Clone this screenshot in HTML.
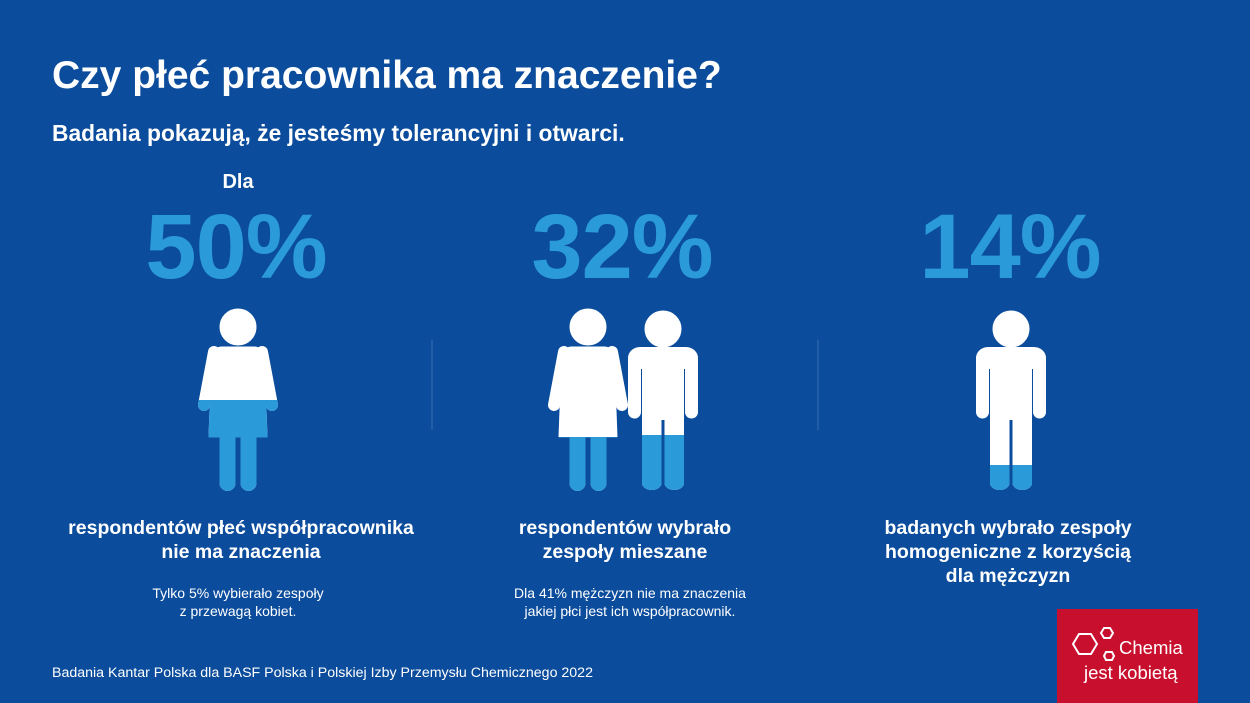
<!DOCTYPE html>
<html><head><meta charset="utf-8"><style>
body{margin:0;width:1250px;height:703px;overflow:hidden;background:#0b4c9c;font-family:"Liberation Sans",Arial,sans-serif;position:relative;color:#fff}
.t{position:absolute;white-space:nowrap}
.c{text-align:center;transform:translateX(-50%)}
.big{font-size:92px;font-weight:bold;color:#2b9ad8;letter-spacing:-1px}
.b{font-size:19.5px;font-weight:bold;line-height:24px}
.s{font-size:14px;line-height:18px}
</style></head><body>
<svg width="1250" height="703" style="position:absolute;left:0;top:0">
<defs>
<g id="w">
<circle cx="0" cy="327" r="18"/>
<path d="M-16,347 L16,347 Q24,347 26,356 L29,437 L-29,437 L-26,356 Q-24,347 -16,347Z"/>
<path d="M-24,352 L-34,405" stroke-width="12" stroke-linecap="round"/>
<path d="M24,352 L34,405" stroke-width="12" stroke-linecap="round"/>
<path d="M-18,430 h15 v53 a7.5,7.5 0 0 1 -15,0Z"/>
<path d="M3,430 h15 v53 a7.5,7.5 0 0 1 -15,0Z"/>
</g>
<g id="m">
<circle cx="0" cy="329" r="18"/>
<rect x="-35" y="347" width="70" height="22" rx="12" stroke="none"/>
<rect x="-21" y="355" width="42" height="65" stroke="none"/>
<line x1="-28.5" y1="360" x2="-28.5" y2="412" stroke-width="13" stroke-linecap="round"/>
<line x1="28.5" y1="360" x2="28.5" y2="412" stroke-width="13" stroke-linecap="round"/>
<path d="M-21,415 h19.5 v68 a9.75,7 0 0 1 -19.5,0Z" stroke="none"/>
<path d="M1.5,415 h19.5 v68 a9.75,7 0 0 1 -19.5,0Z" stroke="none"/>
</g>
<clipPath id="c1"><rect x="-2000" y="400" width="4000" height="200"/></clipPath>
<clipPath id="c2"><rect x="-2000" y="437" width="4000" height="200"/></clipPath>
<clipPath id="c3"><rect x="-2000" y="435" width="4000" height="200"/></clipPath>
<clipPath id="c4"><rect x="-2000" y="465" width="4000" height="200"/></clipPath>
</defs>
<line x1="432" y1="340" x2="432" y2="430" stroke="#3a6fb0" stroke-width="1"/>
<line x1="818" y1="340" x2="818" y2="430" stroke="#3a6fb0" stroke-width="1"/>
<g fill="#fff" stroke="#fff">
<use href="#w" x="238"/><use href="#w" x="588"/><use href="#m" x="663"/><use href="#m" x="1011"/>
</g>
<g fill="#2b9ad8" stroke="#2b9ad8">
<use href="#w" x="238" clip-path="url(#c1)"/>
<use href="#w" x="588" clip-path="url(#c2)"/>
<use href="#m" x="663" clip-path="url(#c3)"/>
<use href="#m" x="1011" clip-path="url(#c4)"/>
</g>
<rect x="1057" y="609" width="141" height="94" fill="#c8102e"/>
<g fill="none" stroke="#fff" stroke-width="2">
<polygon points="1073,644 1079,634 1091,634 1097,644 1091,654 1079,654"/>
<polygon points="1101,633 1104,628 1110,628 1113,633 1110,638 1104,638"/>
<polygon points="1104,656 1106,652 1112,652 1114,656 1112,660 1106,660"/>
</g>
</svg>
<div class="t" style="left:52px;top:54px;font-size:39px;font-weight:bold">Czy płeć pracownika ma znaczenie?</div>
<div class="t" style="left:52px;top:120px;font-size:22.8px;font-weight:bold">Badania pokazują, że jesteśmy tolerancyjni i otwarci.</div>
<div class="t c" style="left:238px;top:171px;font-size:20px;font-weight:bold">Dla</div>
<div class="t c big" style="left:236px;top:195px">50%</div>
<div class="t c big" style="left:622px;top:195px">32%</div>
<div class="t c big" style="left:1010px;top:195px">14%</div>
<div class="t c b" style="left:241px;top:516px">respondentów płeć współpracownika<br>nie ma znaczenia</div>
<div class="t c s" style="left:238px;top:584px">Tylko 5% wybierało zespoły<br>z przewagą kobiet.</div>
<div class="t c b" style="left:625px;top:516px">respondentów wybrało<br>zespoły mieszane</div>
<div class="t c s" style="left:630px;top:584px">Dla 41% mężczyzn nie ma znaczenia<br>jakiej płci jest ich współpracownik.</div>
<div class="t c b" style="left:1008px;top:516px">badanych wybrało zespoły<br>homogeniczne z korzyścią<br>dla mężczyzn</div>
<div class="t" style="left:52px;top:665px;font-size:14.2px">Badania Kantar Polska dla BASF Polska i Polskiej Izby Przemysłu Chemicznego 2022</div>
<div class="t" style="left:1119px;top:637px;font-size:18.5px">Chemia</div>
<div class="t" style="left:1084px;top:662px;font-size:18.5px">jest kobietą</div>
</body></html>
